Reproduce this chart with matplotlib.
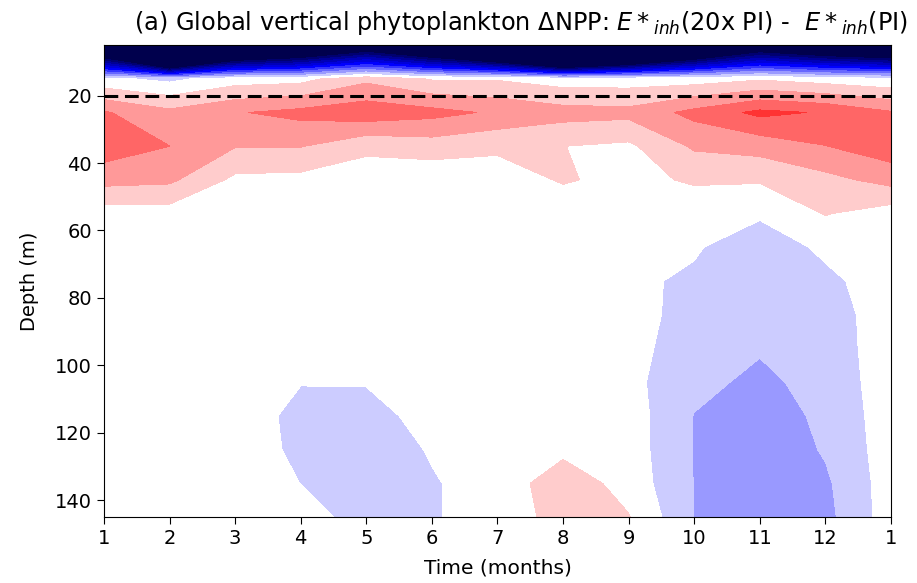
import numpy as np
import matplotlib
matplotlib.use("Agg")
import matplotlib.pyplot as plt

# ---- data ----
months = [1, 2, 3, 4, 5, 6, 7, 8, 9, 10, 11, 12]
month_labels = ["1", "2", "3", "4", "5", "6", "7", "8", "9", "10", "11", "12", "1"]
depths = [5, 15, 25, 35, 45, 55, 65, 75, 85, 95, 105, 115, 125, 135, 145]

# delta NPP, rows = depth levels, columns = months 1..12
d005 = [-0.32, -0.63, -0.37, -0.32, -0.25, -0.32, -0.42, -0.63, -0.49, -0.35, -0.25, -0.29]
d015 = [-0.006, -0.015, 0.0, 0.003, 0.025, 0.008, 0.008, 0.0, 0.0, 0.0, 0.0073, 0.0]
d025 = [0.052, 0.035, 0.0485, 0.056, 0.063, 0.0566, 0.047, 0.038, 0.036, 0.056, 0.075, 0.068]
d035 = [0.062, 0.0501, 0.031, 0.031, 0.0143, 0.0202, 0.013, 0.0102, 0.0062, 0.033, 0.038, 0.0495]
d045 = [0.037, 0.034, 0.0054, 0.0037, 0.0, -0.005, 0.002, 0.0115, 0.0055, 0.012, 0.012, 0.024]
d055 = [0.0, 0.0007, 0.0, 0.0, 0.0, 0.0, 0.0, 0.0, 0.0, 0.0, -0.007, 0.011]
d065 = [0.0, 0.0, 0.0, 0.0, 0.0, 0.0, 0.0, 0.0, -0.003, -0.008, -0.022, -0.006]
d075 = [0.0, 0.0, 0.0, 0.0, 0.0, 0.0, 0.0, 0.0, -0.0066, -0.013, -0.025, -0.0145]
d085 = [0.0, 0.0, 0.0, 0.0, 0.0, 0.0, 0.0, 0.0, -0.005, -0.015, -0.027, -0.019]
d095 = [0.0, 0.0, 0.0, 0.0, 0.0, 0.0, 0.0, 0.0, -0.005, -0.018, -0.028, -0.02]
d105 = [0.0, 0.0, 0.0, -0.009, -0.009, 0.0, 0.0, 0.0, -0.0048, -0.024, -0.035, -0.022]
d115 = [0.0, 0.0, 0.005, -0.018, -0.016, -0.004, 0.0, 0.0, -0.0003, -0.0307, -0.042, -0.025]
d125 = [0.0, 0.0, 0.005, -0.016, -0.02, -0.0085, 0.0, 0.005, 0.0, -0.031, -0.045, -0.028]
d135 = [0.0, 0.0, 0.0, -0.0102, -0.022, -0.0115, -0.002, 0.022, 0.002, -0.0305, -0.044, -0.0335]
d145 = [0.0, 0.0, 0.0, -0.002, -0.018, -0.0115, -0.002, 0.018, 0.011, -0.0305, -0.04, -0.036]

rows = [d005, d015, d025, d035, d045, d055, d065, d075, d085, d095,
        d105, d115, d125, d135, d145]

# ---- build cyclic field (month 1 repeated at the end) ----
Z = np.array(rows)
Z = np.concatenate([Z, Z[:, :1]], axis=1)
x = np.arange(1, len(months) + 2)
y = np.array(depths)

levels = np.linspace(-0.21, 0.21, 22)
cmap = plt.get_cmap("seismic").resampled(21)

fig = plt.figure(figsize=(9.17, 5.83), dpi=100)
ax = fig.add_axes([0.1134, 0.1132, 0.8582, 0.8096])

ax.contourf(x, y, Z, levels=levels, cmap=cmap, extend="both")
ax.axhline(20, color="k", linestyle="--", linewidth=2.2, dashes=(4.5, 2.2))

ax.set_ylim(145, 5)
ax.set_xlim(1, 13)
ax.set_xticks(x)
ax.set_xticklabels(month_labels)
ax.set_yticks([20, 40, 60, 80, 100, 120, 140])
ax.tick_params(labelsize=14, length=5)
ax.set_xlabel("Time (months)", fontsize=14.5, labelpad=8)
ax.set_ylabel("Depth (m)", fontsize=14, labelpad=12)
ax.set_title(r"(a) Global vertical phytoplankton $\Delta$NPP: $E*_{inh}$(20x PI) -  $E*_{inh}$(PI)",
             fontsize=17.3, x=0.53, pad=11)

fig.savefig("out.png", dpi=100)
